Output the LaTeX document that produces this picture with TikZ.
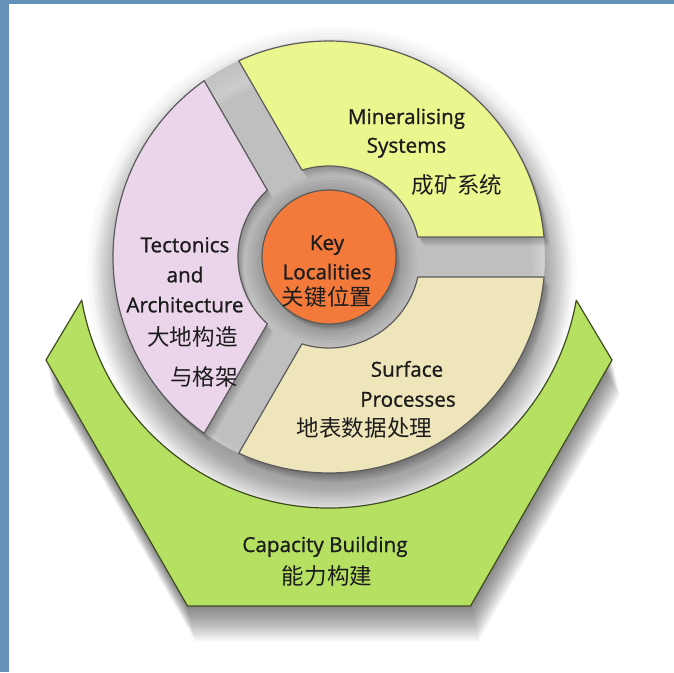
\documentclass[tikz,border=0pt]{standalone}
\usepackage{fontspec}
\setmainfont{Open Sans}
\newfontfamily\enfont{Open Sans}[FakeBold=1.0]
\newfontfamily\cjk{Noto Sans CJK SC}
\definecolor{frameblue}{HTML}{6490BA}
\definecolor{segyellow}{HTML}{EBF68E}
\definecolor{segpink}{HTML}{EBD5EA}
\definecolor{segbeige}{HTML}{EEE6BA}
\definecolor{keyorange}{HTML}{F47A3B}
\definecolor{capgreen}{HTML}{B5E062}
\definecolor{greenline}{HTML}{3E4C20}
\definecolor{segline}{HTML}{5A5A5A}
\definecolor{txt}{HTML}{1C1C1C}
\tikzset{
  en/.style={font=\enfont\fontsize{15.5}{18}\selectfont, text=txt, anchor=base, inner sep=0pt},
  zh/.style={font=\cjk\fontsize{16.9}{20}\selectfont, text=txt, anchor=center, inner sep=0pt},
  segshape/.style={draw=segline, line width=0.9pt, line join=round},
}
% segment between gap angles #1 and #2 (image angles, clockwise), gap half width 20
\newcommand\segpath[2]{({#1+5.31}:216) arc[start angle={#1+5.31}, end angle={#2-5.31}, radius=216] -- ({#2-12.70}:91) arc[start angle={#2-12.70}, end angle={#1+12.70}, radius=91] -- cycle}
\newcommand\greenpath{(-283,103) -- (170.1:251) arc[start angle=170.1, end angle=9.9, radius=251] -- (283,103) -- (141.5,349) -- (-141.5,349) -- cycle}
\begin{document}
\begin{tikzpicture}[x=0.75pt,y=-0.75pt]
\useasboundingbox (0,0) rectangle (674,672);
\fill[white] (0,0) rectangle (674,672);
\fill[frameblue] (0,0) rectangle (8.7,672);
\fill[frameblue] (0,0) rectangle (674,3.7);
\coordinate (C) at (329,257);
\begin{scope}[shift={(C)}]
  % shadow of green base
  \foreach \k in {1,...,16} {
    \fill[black, opacity=0.035, shift={({\k*0.5},{\k*2.2})}] \greenpath;
  }
  % shadow disc behind the wheel
  \foreach \r in {200,203,...,245} {
    \fill[black, opacity=0.015] (3,15) circle (\r);
  }
  % darker ring just outside the wheel (mostly below it)
  \foreach \r in {214,217,...,238} {
    \fill[black, opacity=0.025, even odd rule] (3,20) circle (\r) (0,0) circle (216);
  }
  % green base
  \fill[capgreen, draw=greenline, line width=0.9pt, line join=round] \greenpath;
  % glow around the centre circle
  \foreach \r in {68,71,...,86} {
    \fill[black, opacity=0.03] (2,3) circle (\r);
  }
  % segment shadows
  \foreach \k in {1,...,6} {
    \fill[black, opacity=0.045, shift={(\k,{\k*1.5})}] \segpath{240}{360};
    \fill[black, opacity=0.045, shift={(\k,{\k*1.5})}] \segpath{0}{120};
    \fill[black, opacity=0.045, shift={(\k,{\k*1.5})}] \segpath{120}{240};
  }
  \foreach \k in {1,...,4} {
    \fill[black, opacity=0.06] (\k,{\k*1.5}) circle (67);
  }
  % segments
  \path[segshape, fill=segyellow] \segpath{240}{360};
  \path[segshape, fill=segbeige] \segpath{0}{120};
  \path[segshape, fill=segpink] \segpath{120}{240};
  \path[segshape, fill=keyorange] (0,0) circle (67);
\end{scope}
% texts
\node[en] (min1) at (406.5,124) {Mineralising};
\node[en] (min2) at (406.5,152.7) {Systems};
\node[zh] (minz) at (457,185) {成矿系统};
\node[en] (key1) at (327,250) {Key};
\node[en] (key2) at (327,279.3) {Localities};
\node[zh] (keyz) at (327,297) {关键位置};
\node[en] (tec1) at (185,252.3) {Tectonics};
\node[en] (tec2) at (185,282.3) {and};
\node[en] (tec3) at (185,312.3) {Architecture};
\node[zh] (tecz1) at (192.5,337) {大地构造};
\node[zh] (tecz2) at (204,377) {与格架};
\node[en] (sur1) at (407,376.7) {Surface};
\node[en] (sur2) at (408,406.7) {Processes};
\node[zh] (surz) at (364.5,428) {地表数据处理};
\node[en] (cap1) at (325,552) {Capacity Building};
\node[zh] (capz) at (327,576) {能力构建};
\end{tikzpicture}
\end{document}
